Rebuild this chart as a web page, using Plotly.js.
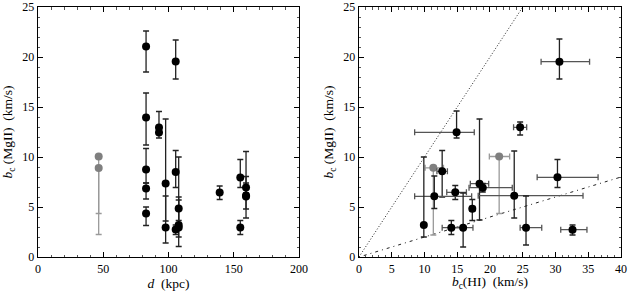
<!DOCTYPE html>
<html>
<head>
<meta charset="utf-8">
<script src="https://cdn.plot.ly/plotly-3.0.1.min.js"></script>
<style>html,body{margin:0;padding:0;background:#fff;}#chart{width:629px;height:291px;}</style>
</head>
<body>
<div id="chart"></div>
<script>
// ---- Left panel: b_c(MgII) vs d ----
var leftD   = [82.8,82.8,82.8,82.8,82.8, 92.7,92.7, 97.8,97.8, 105.5,105.5,105.5, 107.8,107.8,107.8, 139.2, 155,155, 159.4,159.4,159.4];
var leftB   = [21.05,13.95,8.75,6.85,4.35, 12.95,12.45, 7.35,2.95, 19.55,8.5,2.75, 4.85,3.2,2.95, 6.45, 7.95,2.95, 6.95,6.15,6.05];
var leftHi  = [22.6,16.4,10.85,7.4,5.0, 14.55,13.0, 13.8,6.1, 21.7,10.65,3.2, 5.7,10.0,6.0, 7.1, 9.75,3.65, 7.4,10.55,8.05];
var leftLo  = [18.5,11.2,7.4,5.8,3.15, 12.5,11.9, 3.6,1.4, 17.8,6.95,2.25, 3.65,2.0,1.05, 5.75, 6.95,2.25, 6.4,3.9,4.8];
var leftGrayD  = [46.5, 46.5];
var leftGrayB  = [10.05, 8.9];
var leftGrayLo = [4.35, 2.25];

// ---- Right panel: b_c(MgII) vs b_c(HI) ----
var rightX   = [30.6, 24.6, 14.9, 12.7, 30.3, 18.4, 18.9, 14.7, 11.5, 23.7, 17.3, 9.9, 14.1, 15.9, 25.5, 32.6];
var rightY   = [19.53,12.97,12.47,8.57,7.97,7.33,6.93,6.47,6.07,6.13,4.83,3.2,2.93,2.93,2.93,2.73];
var rightXHi = [35.2,25.6,17.6,13.5,36.5,19.8,23.4,16.4,17.2,34.2,17.7,9.9,15.9,17.4,27.9,34.8];
var rightXLo = [27.8,23.6,8.5,11.9,27.2,17.0,16.8,13.4,8.5,18.2,16.9,9.9,12.7,14.3,24.6,30.8];
var rightYHi = [21.8,13.5,14.6,10.65,9.75,13.8,7.35,7.15,8.1,10.6,5.75,10.0,3.65,6.4,6.1,3.2];
var rightYLo = [17.8,12.2,11.9,6.0,6.95,3.7,6.5,5.75,4.85,3.9,3.65,2.0,2.25,1.0,1.2,2.2];
var rightGrayX   = [21.4, 11.35];
var rightGrayY   = [10.05, 8.92];
var rightGrayXHi = [23.0, 12.9];
var rightGrayXLo = [19.9, 10.1];
var rightGrayYLo = [4.35, 2.2];

// reference relations b(MgII) = k * b(HI)
var refSlopes = [1, 0.2];
var refDash   = ['1px,2px', '1px,4px,3px,4px'];

function diff(a, b) { return a.map(function (v, i) { return v - b[i]; }); }

var BLACK = '#000';
var ERR = '#222';
var XERR = '#555';
var GRAY = '#7f7f7f';
var GRAYERR = '#9a9a9a';

var traces = [];
traces.push({
  x: leftGrayD, y: leftGrayB, xaxis: 'x', yaxis: 'y', type: 'scatter', mode: 'markers',
  marker: {color: GRAY, size: 8},
  error_y: {type: 'data', symmetric: false, array: leftGrayB.map(function(){return 0;}),
            arrayminus: diff(leftGrayB, leftGrayLo), color: GRAYERR, thickness: 1.3, width: 3},
  showlegend: false, hoverinfo: 'skip'
});
traces.push({
  x: leftD, y: leftB, xaxis: 'x', yaxis: 'y', type: 'scatter', mode: 'markers',
  marker: {color: BLACK, size: 8},
  error_y: {type: 'data', symmetric: false, array: diff(leftHi, leftB),
            arrayminus: diff(leftB, leftLo), color: ERR, thickness: 1.3, width: 3},
  showlegend: false, hoverinfo: 'skip'
});
refSlopes.forEach(function (k, i) {
  var xEnd = Math.min(40, 25 / k);
  traces.push({
    x: [0, xEnd], y: [0, k * xEnd], xaxis: 'x2', yaxis: 'y2', type: 'scatter', mode: 'lines',
    line: {color: '#222', width: 1, dash: refDash[i]}, showlegend: false, hoverinfo: 'skip'
  });
});
traces.push({
  x: rightGrayX, y: rightGrayY, xaxis: 'x2', yaxis: 'y2', type: 'scatter', mode: 'markers',
  marker: {color: GRAY, size: 8},
  error_x: {type: 'data', symmetric: false, array: diff(rightGrayXHi, rightGrayX),
            arrayminus: diff(rightGrayX, rightGrayXLo), color: GRAYERR, thickness: 1.3, width: 3},
  error_y: {type: 'data', symmetric: false, array: rightGrayY.map(function(){return 0;}),
            arrayminus: diff(rightGrayY, rightGrayYLo), color: GRAYERR, thickness: 1.3, width: 3},
  showlegend: false, hoverinfo: 'skip'
});
traces.push({
  x: rightX, y: rightY, xaxis: 'x2', yaxis: 'y2', type: 'scatter', mode: 'markers',
  marker: {color: BLACK, size: 8},
  error_x: {type: 'data', symmetric: false, array: diff(rightXHi, rightX),
            arrayminus: diff(rightX, rightXLo), color: XERR, thickness: 1.3, width: 3},
  error_y: {type: 'data', symmetric: false, array: diff(rightYHi, rightY),
            arrayminus: diff(rightY, rightYLo), color: ERR, thickness: 1.3, width: 3},
  showlegend: false, hoverinfo: 'skip'
});

var FAM = '"Liberation Serif", "DejaVu Serif", serif';
var TICKFONT = {family: FAM, size: 12, color: '#000'};
var TITLEFONT = {family: FAM, size: 13.5, color: '#000'};
function axis(range, dtick, minorDtick, domain, title, anchor, standoff) {
  return {
    range: range, domain: domain, anchor: anchor, dtick: dtick, tick0: 0,
    ticks: 'inside', ticklen: 5, tickwidth: 1, tickcolor: '#000',
    minor: {dtick: minorDtick, tick0: 0, ticks: 'inside', ticklen: 2.5, tickwidth: 1, tickcolor: '#555', showgrid: false},
    showline: true, linecolor: '#000', linewidth: 1.3, mirror: 'allticks',
    showgrid: false, zeroline: false, tickfont: TICKFONT, ticklabeloverflow: 'allow',
    title: {text: title, font: TITLEFONT, standoff: standoff}
  };
}

var yTitle = '<i>b</i><sub>c</sub> (MgII)  (km/s)';
var layout = {
  width: 629, height: 291,
  margin: {l: 0, r: 0, t: 0, b: 0},
  paper_bgcolor: '#fff', plot_bgcolor: '#fff',
  font: TICKFONT,
  xaxis: axis([0, 200], 50, 10, [0.0604, 0.4754], '<i>d</i>  (kpc)', 'y', 5),
  yaxis: axis([0, 25], 5, 1, [0.1168, 0.9759], yTitle, 'x', 6),
  xaxis2: axis([0, 40], 5, 1, [0.5707, 0.9873], '<i>b</i><sub>c</sub>(HI)  (km/s)', 'y2', 6),
  yaxis2: axis([0, 25], 5, 1, [0.1168, 0.9759], yTitle, 'x2', 6)
};

Plotly.newPlot('chart', traces, layout, {staticPlot: true, displayModeBar: false});
</script>
</body>
</html>
